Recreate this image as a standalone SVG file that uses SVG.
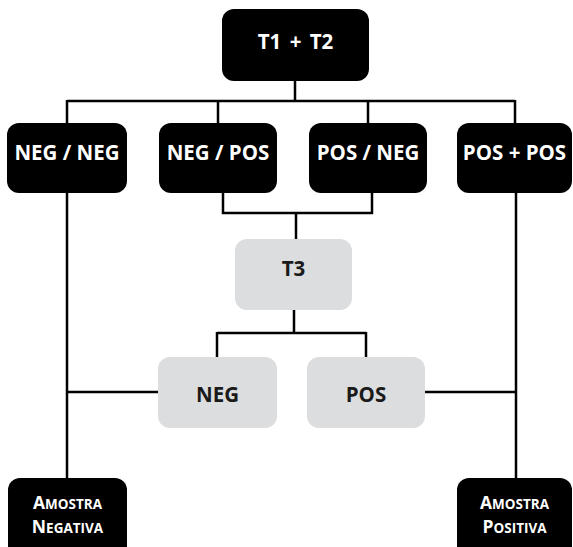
<svg xmlns="http://www.w3.org/2000/svg" width="573" height="547" viewBox="0 0 573 547">
<style>
.dk{fill:#000}
.lt{fill:#dcdddf}
.t{font-family:"Open Sans","Noto Sans","Liberation Sans",sans-serif;font-weight:bold;font-size:20.5px;text-anchor:middle}
.w{fill:#fff}
.b{fill:#1a1a1a}
.c{fill:none;stroke:#000;stroke-width:2.5}
.s2{font-size:17.5px}
.sc{font-size:13.5px}
.ws{word-spacing:3px}
</style>
<rect width="573" height="547" fill="#fff"/>
<g id="connectors">
<path class="c" d="M295,81V101M67,101H515M67,100V123M218,100V123M368,100V123M515,100V123"/>
<path class="c" d="M223,193V213H372V193M296,213V239"/>
<path class="c" d="M294,310V333M217,333H366M217,332V357M366,332V357"/>
<path class="c" d="M67,193V478M67,392H158M516,193V478M425,392H516"/>
</g>
<g id="t1t2"><rect class="dk" x="222" y="9" width="147" height="72" rx="12"/><text class="t w ws" x="295.5" y="49">T1 + T2</text></g>
<g id="negneg"><rect class="dk" x="7" y="123" width="120" height="70" rx="12"/><text class="t w" x="67" y="160">NEG / NEG</text></g>
<g id="negpos"><rect class="dk" x="159" y="123" width="118" height="70" rx="12"/><text class="t w" x="218" y="160">NEG / POS</text></g>
<g id="posneg"><rect class="dk" x="309" y="123" width="118" height="70" rx="12"/><text class="t w" x="368" y="160">POS / NEG</text></g>
<g id="pospos"><rect class="dk" x="457" y="123" width="115" height="70" rx="12"/><text class="t w" x="514.5" y="160">POS + POS</text></g>
<g id="t3"><rect class="lt" x="235" y="239" width="117" height="71" rx="12"/><text class="t b" x="293.5" y="276">T3</text></g>
<g id="neg"><rect class="lt" x="158" y="357" width="119" height="71" rx="12"/><text class="t b" x="217.5" y="402">NEG</text></g>
<g id="pos"><rect class="lt" x="307" y="357" width="118" height="71" rx="12"/><text class="t b" x="366" y="402">POS</text></g>
<g id="amostra-negativa"><rect class="dk" x="8" y="478" width="119" height="82" rx="12"/><text class="t w s2" x="67.5" y="509">A<tspan class="sc">MOSTRA</tspan></text><text class="t w s2" x="67.5" y="533">N<tspan class="sc">EGATIVA</tspan></text></g>
<g id="amostra-positiva"><rect class="dk" x="457" y="478" width="115" height="82" rx="12"/><text class="t w s2" x="514.5" y="509">A<tspan class="sc">MOSTRA</tspan></text><text class="t w s2" x="514.5" y="533">P<tspan class="sc">OSITIVA</tspan></text></g>
</svg>
